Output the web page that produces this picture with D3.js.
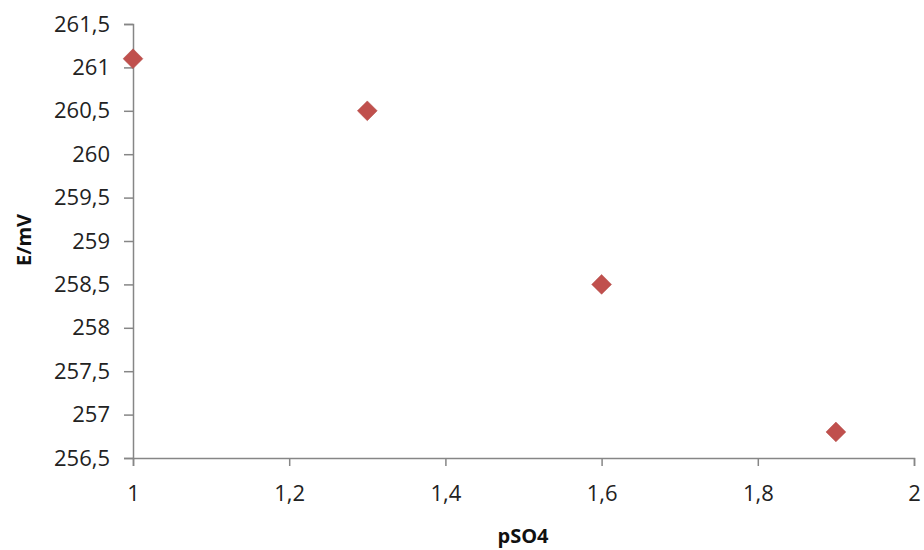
<!DOCTYPE html>
<html><head><meta charset="utf-8">
<script src="https://cdn.jsdelivr.net/npm/d3@7"></script>
<style>body{margin:0;background:#fff;} text{font-family:"Open Sans","Liberation Sans",sans-serif;}</style>
</head><body>
<svg id="c" width="924" height="550"></svg>
<script>
const xValues = [1, 1.3, 1.6, 1.9];
const yValues = [261.1, 260.5, 258.5, 256.8];
const xTicks = [1, 1.2, 1.4, 1.6, 1.8, 2];
const yTicks = [256.5, 257, 257.5, 258, 258.5, 259, 259.5, 260, 260.5, 261, 261.5];
const xTitle = "pSO4";
const yTitle = "E/mV";

const svg = d3.select("#c");
const x = d3.scaleLinear().domain([1, 2]).range([133, 914]);
const y = d3.scaleLinear().domain([256.5, 261.5]).range([458, 24]);
const fmt = v => String(v).replace(".", ",");
const axisColor = "#868686";

const gx = svg.append("g").attr("transform", "translate(0,458)")
  .call(d3.axisBottom(x).tickValues(xTicks).tickFormat(fmt).tickSize(8).tickPadding(19));
const gy = svg.append("g").attr("transform", "translate(133,0)")
  .call(d3.axisLeft(y).tickValues(yTicks).tickFormat(fmt).tickSize(9).tickPadding(14));
[gx, gy].forEach(g => {
  g.select(".domain").attr("stroke", axisColor).attr("stroke-width", 1.5);
  g.selectAll(".tick line").attr("stroke", axisColor).attr("stroke-width", 1.5);
  g.selectAll(".tick text").attr("fill", "#222").style("font-size", "22px");
});

svg.append("text").attr("x", 523).attr("y", 543).attr("text-anchor", "middle")
  .style("font-size", "20px").style("font-weight", "bold").attr("fill", "#111").text(xTitle);
svg.append("text").attr("transform", "translate(31,240) rotate(-90)").attr("text-anchor", "middle")
  .style("font-size", "20px").style("font-weight", "bold").attr("fill", "#111").text(yTitle);

const sym = d3.symbol().type(d3.symbolDiamond2).size(250);
svg.append("g").selectAll("path").data(xValues).join("path")
  .attr("transform", (d, i) => `translate(${x(d)},${y(yValues[i])})`)
  .attr("d", sym).attr("fill", "#C0504D").attr("stroke", "#B04845").attr("stroke-width", 0.5);
</script>
</body></html>
